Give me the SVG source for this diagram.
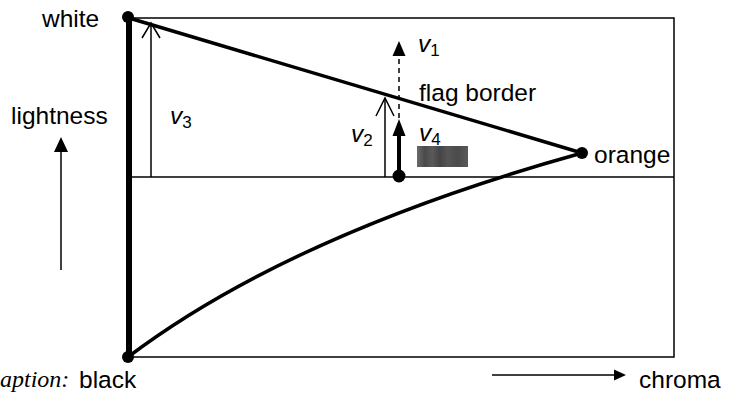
<svg xmlns="http://www.w3.org/2000/svg" width="731" height="398" viewBox="0 0 731 398">
<style>
.t{font-family:"Liberation Sans",Arial,sans-serif;font-size:24.5px;fill:#000}
.v{font-family:"Liberation Sans",Arial,sans-serif;font-size:24.5px;font-style:italic;fill:#000}
.s{font-size:17px;font-style:normal}
.thin{stroke:#000;stroke-width:1.5;fill:none}
.thick{stroke:#000;stroke-width:3.5;fill:none}
.dot{fill:#000}
</style>
<defs>
<linearGradient id="g" x1="0" x2="1" y1="0" y2="0">
<stop offset="0" stop-color="#6a6a6a"/>
<stop offset="0.15" stop-color="#4a4a4a"/>
<stop offset="0.3" stop-color="#5a5a5a"/>
<stop offset="0.45" stop-color="#444"/>
<stop offset="0.6" stop-color="#555"/>
<stop offset="0.8" stop-color="#4b4b4b"/>
<stop offset="1" stop-color="#5a5a5a"/>
</linearGradient>
</defs>
<g id="frame">
<rect x="129" y="18" width="545" height="339" class="thin"/>
<line x1="129" y1="177" x2="674" y2="177" class="thin"/>
</g>
<g id="connectors">
<line x1="129" y1="18" x2="129" y2="357" stroke="#000" stroke-width="6"/>
<line x1="129" y1="18" x2="582" y2="153" class="thick"/>
<path d="M128,357 Q291,234 582,153" class="thick"/>
<line x1="151" y1="177" x2="151" y2="23" class="thin"/>
<path d="M142,38 L151,23 L160,38" class="thin"/>
<line x1="385" y1="177" x2="385" y2="98" class="thin"/>
<path d="M376,116 L385,98 L394,116" class="thin"/>
<line x1="399" y1="176" x2="399" y2="133" stroke="#000" stroke-width="4"/>
<path d="M392.5,136 L399,119 L405.5,136 Z" class="dot"/>
<line x1="399" y1="118" x2="399" y2="55" stroke="#000" stroke-width="1.5" stroke-dasharray="5,4"/>
<path d="M392.5,56 L399,41 L405.5,56 Z" class="dot"/>
<line x1="61" y1="270" x2="61" y2="150" stroke="#000" stroke-width="1.5"/>
<path d="M54,152 L61,137 L68,152 Z" class="dot"/>
<line x1="492" y1="375" x2="616" y2="375" stroke="#000" stroke-width="1.5"/>
<path d="M614,369.5 L626,375 L614,380.5 Z" class="dot"/>
</g>
<g id="white"><circle cx="128" cy="17" r="6" class="dot"/><text x="42" y="27" class="t">white</text></g>
<g id="black"><circle cx="128" cy="357" r="6" class="dot"/><text x="79" y="388" class="t">black</text></g>
<g id="orange"><circle cx="582" cy="153" r="6" class="dot"/><text x="594" y="163" class="t">orange</text></g>
<g id="current"><circle cx="399" cy="176" r="6.5" class="dot"/><rect x="417" y="146" width="51" height="21" fill="url(#g)"/></g>
<g id="labels">
<text x="11" y="124" class="t">lightness</text>
<text x="419" y="101" class="t">flag border</text>
<text x="170" y="124" class="v">v<tspan class="s" dy="4">3</tspan></text>
<text x="351" y="142" class="v">v<tspan class="s" dy="4">2</tspan></text>
<text x="418" y="52" class="v">v<tspan class="s" dy="4">1</tspan></text>
<text x="419" y="141" class="v">v<tspan class="s" dy="4">4</tspan></text>
<text x="639" y="388" class="t">chroma</text>
<text x="0" y="387" font-family="'Liberation Serif','Times New Roman',serif" font-style="italic" font-size="24">aption:</text>
</g>
</svg>
